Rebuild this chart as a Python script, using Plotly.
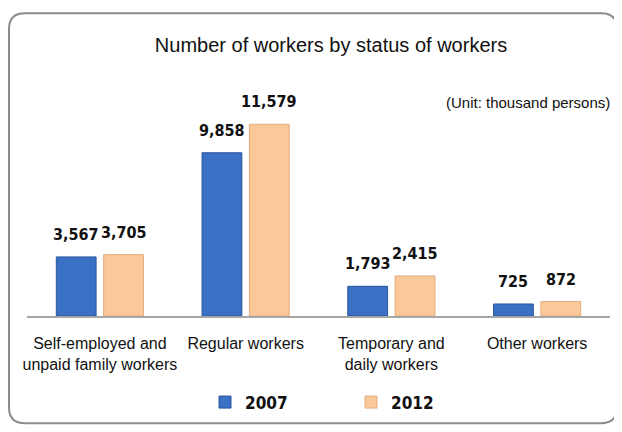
import plotly.graph_objects as go

categories = ["Self-employed and<br>unpaid family workers", "Regular workers",
              "Temporary and<br>daily workers", "Other workers"]
series_names = ["2007", "2012"]
values_2007 = [3567, 9858, 1793, 725]
values_2012 = [3705, 11579, 2415, 872]
series_values = [values_2007, values_2012]
colors = ["#3b71c4", "#fbc89a"]
edge_colors = ["#2a559c", "#e3ab7a"]

# page body has an 8px margin, so the figure is 8px smaller and coordinates are shifted
OFF = 8
W, H = 622 - OFF, 432 - OFF
ML, MR, MT, MB = 19, 12, 72, 112
PW, PH = W - ML - MR, H - MT - MB
BARGAP, BARGROUPGAP = 0.35, 0.16

fig = go.Figure()
for name, vals, c, ec in zip(series_names, series_values, colors, edge_colors):
    fig.add_trace(go.Bar(
        name=name, x=categories, y=vals,
        marker=dict(color=c, line=dict(color=ec, width=1)),
    ))

# value labels above bars
cat_w = PW / len(categories)
slot = (1 - BARGAP) * cat_w / len(series_names)
for i, vals in enumerate(series_values):
    shift = (i - (len(series_names) - 1) / 2) * slot
    for cat, v in zip(categories, vals):
        fig.add_annotation(x=cat, y=v, xref="x", yref="y", text=f"{v:,}",
                           showarrow=False, xanchor="center", yanchor="bottom",
                           xshift=shift, yshift=11,
                           font=dict(family="DejaVu Sans Condensed", size=16,
                                     color="#111111", weight="bold"))

def px2paper(px, py):
    return (px - ML) / PW, (H - MB - py) / PH

def rounded_rect(x0, y0, x1, y1, r):
    def P(x, y):
        a, b = px2paper(x, y)
        return f"{a:.5f},{b:.5f}"
    d = f"M {P(x0 + r, y0)} L {P(x1 - r, y0)} Q {P(x1, y0)} {P(x1, y0 + r)} "
    d += f"L {P(x1, y1 - r)} Q {P(x1, y1)} {P(x1 - r, y1)} "
    d += f"L {P(x0 + r, y1)} Q {P(x0, y1)} {P(x0, y1 - r)} "
    d += f"L {P(x0, y0 + r)} Q {P(x0, y0)} {P(x0 + r, y0)} Z"
    return d

fig.add_shape(type="path", xref="paper", yref="paper",
              path=rounded_rect(9 - OFF, 12 - OFF, 617 - OFF, 429 - OFF, 16),
              line=dict(color="#8c8c8c", width=2), layer="below")

fig.add_annotation(text="(Unit: thousand persons)", xref="paper", yref="paper",
                   x=px2paper(612 - OFF, 0)[0], y=px2paper(0, 103 - OFF)[1],
                   xanchor="right", yanchor="middle", showarrow=False,
                   font=dict(family="Liberation Sans", size=15, color="#111111"))

fig.update_layout(
    width=W, height=H,
    margin=dict(l=ML, r=MR, t=MT, b=MB),
    paper_bgcolor="white", plot_bgcolor="white",
    title=dict(text="Number of workers by status of workers",
               x=(331 - OFF) / W, xanchor="center",
               y=1 - (45 - OFF) / H, yanchor="middle",
               font=dict(family="Liberation Sans", size=20, color="#111111")),
    barmode="group", bargap=BARGAP, bargroupgap=BARGROUPGAP,
    showlegend=True,
    legend=dict(orientation="h", x=px2paper(205 - OFF, 0)[0], xanchor="left",
                y=px2paper(0, 408 - OFF)[1], yanchor="middle", entrywidth=101,
                font=dict(family="DejaVu Sans Condensed", size=17, color="#111111", weight="bold")),
    xaxis=dict(showline=True, linecolor="#a6a6a6", linewidth=1.5, ticks="",
               ticklabelstandoff=12,
               tickfont=dict(family="Liberation Sans", size=16, color="#111111")),
    yaxis=dict(range=[0, 11579 * PH / 195], visible=False, showgrid=False),
)

fig.write_html("out.html")
